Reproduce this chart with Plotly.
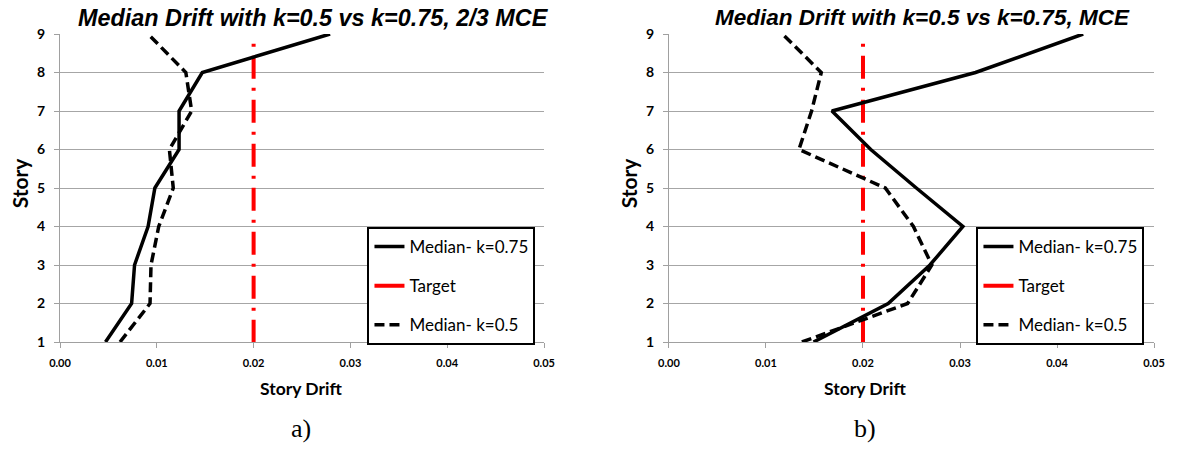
import plotly.graph_objects as go

stories = [1, 2, 3, 4, 5, 6, 7, 8, 9]

# Panel a) 2/3 MCE
a_k075 = [0.0047, 0.0074, 0.0077, 0.0091, 0.0098, 0.0123, 0.0123, 0.0147, 0.0279]
a_k05 = [0.0062, 0.0093, 0.0094, 0.0102, 0.0117, 0.0113, 0.0136, 0.0130, 0.0091]

# Panel b) MCE
b_k075 = [0.0149, 0.0226, 0.0269, 0.0303, 0.0255, 0.0208, 0.0168, 0.0316, 0.0427]
b_k05 = [0.0137, 0.0246, 0.0271, 0.0252, 0.0223, 0.0134, 0.0147, 0.0157, 0.0117]

target_x = [0.02, 0.02]
target_y = [8.75, 1]

titles = ["Median Drift with k=0.5 vs k=0.75, 2/3 MCE",
          "Median Drift with k=0.5 vs k=0.75, MCE"]
captions = ["a)", "b)"]
x_ticks = [0.0, 0.01, 0.02, 0.03, 0.04, 0.05]
x_ticktext = ["0.00", "0.01", "0.02", "0.03", "0.04", "0.05"]
y_ticks = [1, 2, 3, 4, 5, 6, 7, 8, 9]

W, H = 1177, 467
ML, MT = 60, 34
MR = W - 1163
MB = H - 342
PW = W - ML - MR
PH = H - MT - MB


def px(x):
    return (x - ML) / PW


def py(y):
    return (H - MB - y) / PH


fig = go.Figure()

panels = [(a_k075, a_k05, "x", "y", "legend"), (b_k075, b_k05, "x2", "y2", "legend2")]
for k075, k05, xa, ya, lg in panels:
    fig.add_trace(go.Scatter(x=target_x, y=target_y, mode="lines", xaxis=xa, yaxis=ya,
                             line=dict(color="#ff0000", width=4, dash="3px,9px,23px,9px"),
                             showlegend=False, hoverinfo="skip"))
    fig.add_trace(go.Scatter(x=k075, y=stories, mode="lines", xaxis=xa, yaxis=ya,
                             name="Median- k=0.75", legend=lg, legendgroup="a" + lg, legendrank=1,
                             line=dict(color="black", width=3.5)))
    fig.add_trace(go.Scatter(x=[None], y=[None], mode="lines", xaxis=xa, yaxis=ya,
                             name="Target", legend=lg, legendgroup="b" + lg, legendrank=2,
                             line=dict(color="#ff0000", width=4)))
    fig.add_trace(go.Scatter(x=k05, y=stories, mode="lines", xaxis=xa, yaxis=ya,
                             name="Median- k=0.5", legend=lg, legendgroup="c" + lg, legendrank=3,
                             line=dict(color="black", width=3.5, dash="10px,5px")))

axis_common_x = dict(range=[0, 0.05], tickvals=x_ticks, ticktext=x_ticktext,
                     showgrid=False, zeroline=False, showline=True, linecolor="#a0a0a0",
                     linewidth=1, ticks="outside", ticklen=5, tickcolor="#a0a0a0",
                     ticklabelstandoff=6,
                     tickfont=dict(family="Lato", size=11, color="black", weight="bold"))
axis_common_y = dict(range=[1, 9], tickvals=y_ticks, showgrid=True, gridcolor="#a6a6a6",
                     gridwidth=1, zeroline=False, showline=True, linecolor="#a0a0a0",
                     linewidth=1, ticks="outside", ticklen=5, tickcolor="#a0a0a0",
                     ticklabelstandoff=6,
                     tickfont=dict(family="Lato", size=14, color="black", weight="bold"))

d1 = (548 - ML) / PW
d2 = (674 - ML) / PW
fig.update_layout(
    width=W, height=H,
    margin=dict(l=ML, r=MR, t=MT, b=MB),
    paper_bgcolor="white", plot_bgcolor="white",
    xaxis=dict(domain=[0, d1], anchor="y", **axis_common_x),
    yaxis=dict(domain=[0, 1], anchor="x", **axis_common_y),
    xaxis2=dict(domain=[d2, 1], anchor="y2", **axis_common_x),
    yaxis2=dict(domain=[0, 1], anchor="x2", **axis_common_y),
)

legend_common = dict(bgcolor="white", bordercolor="black", borderwidth=2,
                     font=dict(family="Lato", size=17, color="black"),
                     tracegroupgap=14, yanchor="top", xanchor="left", entrywidth=146)
fig.update_layout(
    legend=dict(x=px(370), y=py(227), **legend_common),
    legend2=dict(x=px(984), y=py(227), **legend_common),
)

ann = []
title_cx = [316, 930]
title_size = [23.4, 22.5]
label_cx = [303, 872]
story_cx = [19, 633]
for i in range(2):
    ann.append(dict(text=titles[i], x=px(title_cx[i]), y=py(18), xref="paper", yref="paper",
                    showarrow=False, xanchor="center", yanchor="middle",
                    font=dict(family="Liberation Sans", size=title_size[i], color="black",
                              weight="bold", style="italic")))
    ann.append(dict(text="Story Drift", x=px(label_cx[i]), y=py(388), xref="paper", yref="paper",
                    showarrow=False, xanchor="center", yanchor="middle",
                    font=dict(family="Lato", size=17.5, color="black", weight="bold")))
    ann.append(dict(text="Story", x=px(story_cx[i]), y=py(183), xref="paper", yref="paper",
                    showarrow=False, xanchor="center", yanchor="middle", textangle=-90,
                    font=dict(family="Lato", size=21, color="black", weight="bold")))
    ann.append(dict(text=captions[i], x=px(label_cx[i]), y=py(428), xref="paper", yref="paper",
                    showarrow=False, xanchor="center", yanchor="middle",
                    font=dict(family="Liberation Serif", size=26, color="black")))
fig.update_layout(annotations=ann)

fig.write_html("out.html", config={"displayModeBar": False},
               post_script="document.body.style.margin='0px';document.body.style.overflow='hidden';")
